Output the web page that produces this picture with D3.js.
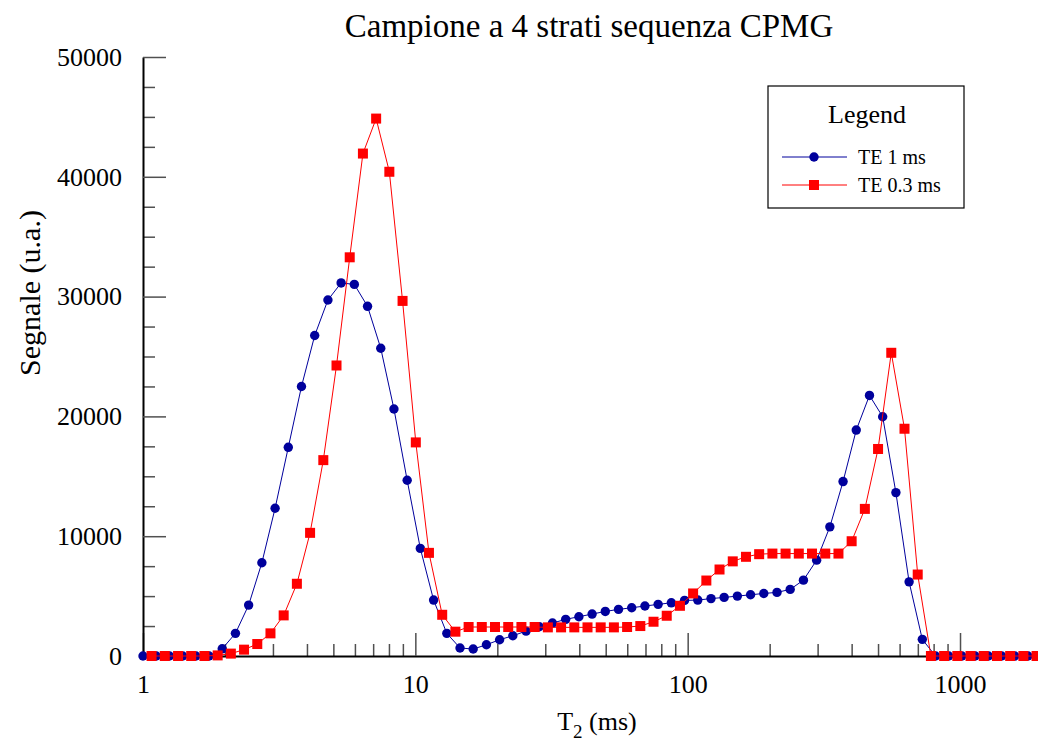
<!DOCTYPE html>
<html>
<head>
<meta charset="utf-8">
<script src="https://cdn.jsdelivr.net/npm/d3@7/dist/d3.min.js"></script>
<style>
  html, body { margin: 0; padding: 0; background: #fff; }
  svg { display: block; font-family: "Liberation Serif", "Times New Roman", serif; }
</style>
</head>
<body>
<svg id="chart" width="1038" height="747"></svg>
<script>
// T2 grid (ms) and signal for the TE = 1 ms acquisition
const t2Te1 = [1.000, 1.118, 1.250, 1.398, 1.563, 1.748, 1.954, 2.185, 2.443, 2.732,
  3.055, 3.416, 3.819, 4.270, 4.775, 5.339, 5.970, 6.675, 7.464, 8.346,
  9.333, 10.43, 11.67, 13.05, 14.59, 16.31, 18.24, 20.39, 22.80, 25.50,
  28.51, 31.88, 35.65, 39.86, 44.57, 49.83, 55.72, 62.30, 69.66, 77.89,
  87.10, 97.39, 108.9, 121.8, 136.1, 152.2, 170.2, 190.3, 212.8, 237.9,
  266.1, 297.5, 332.7, 372.0, 415.9, 465.1, 520.0, 581.5, 650.2, 727.0,
  812.8, 908.9, 1016, 1136, 1271, 1421, 1589, 1776, 1986];
const signalTe1 = [0, 0, 0, 0, 0, 0, 600, 1890, 4250, 7780,
  12330, 17420, 22500, 26750, 29720, 31140, 31020, 29190, 25690, 20620,
  14670, 8980, 4670, 1890, 670, 580, 940, 1360, 1690, 2080,
  2440, 2750, 3060, 3280, 3500, 3720, 3890, 4030, 4170, 4310,
  4440, 4640, 4670, 4790, 4890, 5000, 5110, 5220, 5310, 5560,
  6330, 8000, 10780, 14560, 18860, 21750, 19970, 13640, 6190, 1390,
  0, 0, 0, 0, 0, 0, 0, 0, 0];

// T2 grid (ms) and signal for the TE = 0.3 ms acquisition
const t2Te03 = [1.075, 1.202, 1.345, 1.503, 1.681, 1.880, 2.102, 2.350, 2.628, 2.938,
  3.285, 3.673, 4.107, 4.593, 5.135, 5.742, 6.420, 7.179, 8.027, 8.976,
  10.04, 11.22, 12.55, 14.03, 15.69, 17.54, 19.61, 21.93, 24.52, 27.42,
  30.66, 34.29, 38.34, 42.87, 47.93, 53.59, 59.92, 67.00, 74.92, 83.77,
  93.67, 104.7, 117.1, 130.9, 146.4, 163.7, 183.0, 204.7, 228.8, 255.9,
  286.1, 320.0, 357.8, 400.0, 447.3, 500.1, 559.2, 625.4, 699.3, 781.9,
  874.3, 977.5, 1093, 1222, 1367, 1528, 1709, 1910];
const signalTe03 = [0, 0, 0, 0, 0, 50, 200, 530, 1000, 1890,
  3390, 6030, 10280, 16350, 24250, 33280, 41940, 44860, 40420, 29640,
  17830, 8610, 3440, 2030, 2420, 2420, 2420, 2420, 2420, 2420,
  2390, 2390, 2390, 2390, 2390, 2390, 2420, 2500, 2860, 3360,
  4190, 5220, 6300, 7220, 7900, 8280, 8500, 8550, 8550, 8550,
  8550, 8550, 8550, 9580, 12280, 17280, 25310, 18970, 6800, 0,
  0, 0, 0, 0, 0, 0, 0, 0];

// Axis ticks
const xMajorTicks = [1, 10, 100, 1000];
const xMinorTicks = [2, 3, 4, 5, 6, 7, 8, 9, 20, 30, 40, 50, 60, 70, 80, 90,
  200, 300, 400, 500, 600, 700, 800, 900, 2000];
const yMajorTicks = [0, 10000, 20000, 30000, 40000, 50000];
const yMinorTicks = [2500, 5000, 7500, 12500, 15000, 17500, 22500, 25000, 27500,
  32500, 35000, 37500, 42500, 45000, 47500];

const seriesNames = ["TE 1 ms", "TE 0.3 ms"];
const seriesColors = ["#00009c", "#ff0000"];

const svg = d3.select("#chart");

const x = d3.scaleLog().domain([1, 2000]).range([143, 1042]);
const y = d3.scaleLinear().domain([0, 50000]).range([656, 57]);

// Title
svg.append("text")
  .attr("x", 589).attr("y", 37)
  .attr("text-anchor", "middle")
  .attr("font-size", 33)
  .text("Campione a 4 strati sequenza CPMG");

// X axis: minor ticks, then major ticks with labels
const gxMinor = svg.append("g").attr("transform", "translate(0,656)")
  .call(d3.axisBottom(x).tickValues(xMinorTicks).tickSizeInner(-12).tickSizeOuter(0).tickFormat(""));
gxMinor.select(".domain").remove();

const gx = svg.append("g").attr("transform", "translate(0,656)")
  .call(d3.axisBottom(x).tickValues(xMajorTicks).tickSizeInner(-23).tickSizeOuter(0)
    .tickPadding(19).tickFormat(d3.format("d")));
gx.selectAll("text").attr("font-size", 26).attr("fill", "#000")
  .style("font-family", "'Liberation Serif', 'Times New Roman', serif");

// Y axis: minor ticks, then major ticks with labels
const gyMinor = svg.append("g").attr("transform", "translate(143,0)")
  .call(d3.axisLeft(y).tickValues(yMinorTicks).tickSizeInner(-12).tickSizeOuter(0).tickFormat(""));
gyMinor.select(".domain").remove();

const gy = svg.append("g").attr("transform", "translate(143,0)")
  .call(d3.axisLeft(y).tickValues(yMajorTicks).tickSizeInner(-23).tickSizeOuter(0)
    .tickPadding(21).tickFormat(d3.format("d")));
gy.selectAll("text").attr("font-size", 26).attr("fill", "#000")
  .style("font-family", "'Liberation Serif', 'Times New Roman', serif");

svg.selectAll(".tick line").attr("stroke", "#505050").attr("stroke-width", 1.5);
svg.selectAll(".domain").attr("stroke", "#000").attr("stroke-width", 2);

// Axis titles
const xTitle = svg.append("text")
  .attr("x", 597).attr("y", 730)
  .attr("text-anchor", "middle")
  .attr("font-size", 26);
xTitle.append("tspan").text("T");
xTitle.append("tspan").attr("dy", 8).attr("font-size", 19).text("2");
xTitle.append("tspan").attr("dy", -8).text(" (ms)");

svg.append("text")
  .attr("transform", "translate(40,293) rotate(-90)")
  .attr("text-anchor", "middle")
  .attr("font-size", 30)
  .text("Segnale (u.a.)");

// Series
const line = d3.line().x(d => x(d[0])).y(d => y(d[1]));
const te1 = d3.zip(t2Te1, signalTe1);
const te03 = d3.zip(t2Te03, signalTe03);
const r = 4.7;
const sq = 10;

svg.append("path").datum(te1)
  .attr("fill", "none").attr("stroke", seriesColors[0]).attr("stroke-width", 1)
  .attr("d", line);
svg.append("g").selectAll("circle").data(te1).join("circle")
  .attr("cx", d => x(d[0])).attr("cy", d => y(d[1])).attr("r", r)
  .attr("fill", seriesColors[0]);

svg.append("path").datum(te03)
  .attr("fill", "none").attr("stroke", seriesColors[1]).attr("stroke-width", 1)
  .attr("d", line);
svg.append("g").selectAll("rect").data(te03).join("rect")
  .attr("x", d => x(d[0]) - sq / 2).attr("y", d => y(d[1]) - sq / 2)
  .attr("width", sq).attr("height", sq)
  .attr("fill", seriesColors[1]);

// Legend
const legend = svg.append("g");
legend.append("rect")
  .attr("x", 768).attr("y", 86).attr("width", 196).attr("height", 122)
  .attr("fill", "#fff").attr("stroke", "#000").attr("stroke-width", 1.2);
legend.append("text")
  .attr("x", 867).attr("y", 123)
  .attr("text-anchor", "middle").attr("font-size", 26)
  .text("Legend");
seriesNames.forEach((name, i) => {
  const ly = 157 + i * 28;
  legend.append("line")
    .attr("x1", 782).attr("x2", 847).attr("y1", ly).attr("y2", ly)
    .attr("stroke", seriesColors[i]).attr("stroke-width", 1);
  if (i === 0) {
    legend.append("circle").attr("cx", 814).attr("cy", ly).attr("r", r)
      .attr("fill", seriesColors[i]);
  } else {
    legend.append("rect").attr("x", 814 - sq / 2).attr("y", ly - sq / 2)
      .attr("width", sq).attr("height", sq).attr("fill", seriesColors[i]);
  }
  legend.append("text")
    .attr("x", 858).attr("y", ly + 7)
    .attr("font-size", 20)
    .text(name);
});
</script>
</body>
</html>
